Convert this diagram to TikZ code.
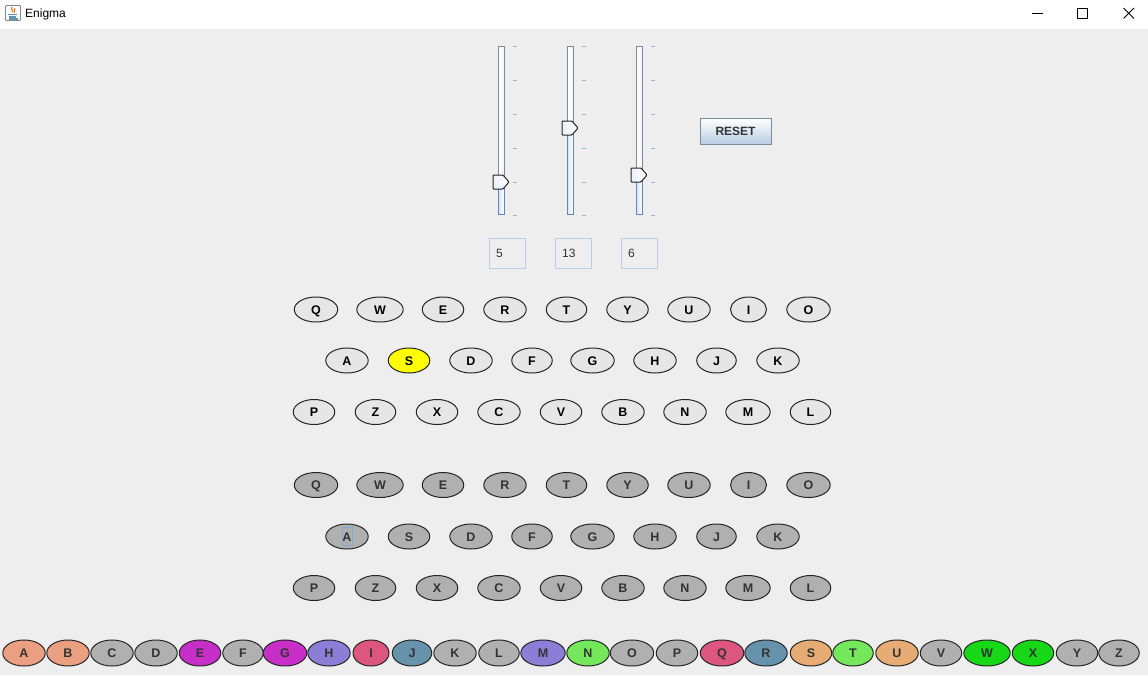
\documentclass[tikz,border=0pt]{standalone}
\usepackage{fontspec}
\setmainfont{Liberation Sans}
\usetikzlibrary{shapes.geometric}
\definecolor{bg}{HTML}{EEEEEE}
\definecolor{keyfill}{HTML}{E6E6E6}
\definecolor{lampgray}{HTML}{B0B0B0}
\definecolor{darktext}{HTML}{333333}
\definecolor{salmon}{HTML}{E99F80}
\definecolor{magentac}{HTML}{C82EC8}
\definecolor{lavender}{HTML}{8C7ED6}
\definecolor{pinkred}{HTML}{DC5680}
\definecolor{steelc}{HTML}{6792AC}
\definecolor{lightgreen}{HTML}{74E85A}
\definecolor{tanc}{HTML}{E6AC74}
\definecolor{greenc}{HTML}{16D816}
\definecolor{trackgray}{HTML}{7A8A99}
\definecolor{trackblue}{HTML}{6382BF}
\definecolor{tickblue}{HTML}{9DB5D4}
\definecolor{fieldblue}{HTML}{B8CFE5}
\definecolor{btnbottom}{HTML}{B9CDE4}
\definecolor{focusblue}{HTML}{7FA7D9}
\definecolor{keyyellow}{HTML}{FFFF00}
\begin{document}
\begin{tikzpicture}[x=1pt,y=-1pt,
  kbkey/.style={ellipse, draw=black!85, line width=1pt, fill=#1,
    inner xsep=10.5pt, inner ysep=0pt, minimum height=25pt, minimum width=36pt,
    text height=9pt, text depth=0pt,
    font=\fontsize{12.5}{14}\selectfont\bfseries, text=black},
  kbkey/.default=keyfill,
  lampkey/.style={kbkey=lampgray, text=darktext},
  plugkey/.style={kbkey=#1, text=darktext, minimum height=26pt},
  field/.style={draw=fieldblue, line width=1pt, fill=bg, minimum width=36pt, minimum height=30pt},
  fieldtext/.style={anchor=west, font=\fontsize{12}{14}\selectfont, text=darktext, inner sep=0pt},
  tick/.style={draw=tickblue, line width=1pt},
  winctl/.style={draw=black, line width=1pt}
]
\useasboundingbox (0,0) rectangle (1148,675);
\fill[bg] (0,0) rectangle (1148,675);
\fill[white] (0,0) rectangle (1148,29);

% title bar
\draw[trackgray, line width=0.8pt, rounded corners=1pt] (5.5,5.5) rectangle (20.5,20.5);
\draw[orange!90!black, line width=1pt] (12,7) .. controls (10,9) and (14,10) .. (12,12);
\draw[orange!90!black, line width=1pt] (15,8) .. controls (13,10) and (16,11) .. (14,13);
\draw[steelc, line width=1.2pt] (8,14.5) -- (17,14.5) (9,17) -- (16,17) (8.5,19) -- (17.5,19);
\node[anchor=west, font=\fontsize{12}{14}\selectfont, inner sep=0pt] (title) at (25,14) {Enigma};
\draw[winctl] (1032,13.5) -- (1043,13.5);
\draw[winctl] (1077.5,8.5) rectangle (1087.5,18.5);
\draw[winctl] (1123.5,8) -- (1134,18.5) (1123.5,18.5) -- (1134,8);

% sliders
\foreach \xc/\ty/\nm in {501/182/sa, 570/128/sb, 639/175/sc}{
  \draw[trackgray, line width=1pt, left color=white, right color=white!80!fieldblue]
    (\xc-3,46) rectangle (\xc+3,\ty);
  \draw[trackblue, line width=1pt, left color=fieldblue!60, right color=white]
    (\xc-3,\ty) rectangle (\xc+3,214);
  \foreach \t in {46,80,114,148,182,215}
    \draw[tick] (\xc+12,\t) -- (\xc+16,\t);
  \draw[black!85, line width=1pt, left color=white!70!fieldblue, right color=white, rounded corners=0.8pt]
    (\xc-8,\ty-7) -- (\xc+2,\ty-7) -- (\xc+8,\ty) -- (\xc+2,\ty+7) -- (\xc-8,\ty+7) -- cycle;
  \coordinate (\nm) at (\xc,\ty);
}

% RESET button
\node[draw=trackgray, line width=1pt, top color=white, bottom color=btnbottom,
  minimum width=71pt, minimum height=26pt, inner sep=0pt,
  font=\fontsize{12}{14}\selectfont\bfseries, text=darktext] (reset) at (735.5,131) {RESET};

% value fields
\node[field] (fa) at (507,253) {};
\node[field] (fb) at (573,253) {};
\node[field] (fc) at (639,253) {};
\node[fieldtext] (ta) at (496,253.5) {5};
\node[fieldtext] (tb) at (562,253.5) {13};
\node[fieldtext] (tc) at (628,253.5) {6};

% keyboard
\foreach \l/\x in {Q/316, W/380, E/443, R/505, T/566.5, Y/627.5, U/689, I/748.5, O/808.5}
  \node[kbkey] (k\l) at (\x,309.5) {\l};
\foreach \l/\x/\c in {A/347/keyfill, S/409/keyyellow, D/471/keyfill, F/532/keyfill, G/592.5/keyfill, H/655/keyfill, J/716.5/keyfill, K/778/keyfill}
  \node[kbkey=\c] (k\l) at (\x,360.5) {\l};
\foreach \l/\x in {P/314, Z/375.5, X/437, C/499, V/561, B/623, N/685, M/748, L/810.5}
  \node[kbkey] (k\l) at (\x,412) {\l};

% lamps
\foreach \l/\x in {Q/316, W/380, E/443, R/505, T/566.5, Y/627.5, U/689, I/748.5, O/808.5}
  \node[lampkey] (l\l) at (\x,485) {\l};
\foreach \l/\x in {A/347, S/409, D/471, F/532, G/592.5, H/655, J/716.5, K/778}
  \node[lampkey] (l\l) at (\x,536.5) {\l};
\foreach \l/\x in {P/314, Z/375.5, X/437, C/499, V/561, B/623, N/685, M/748, L/810.5}
  \node[lampkey] (l\l) at (\x,588) {\l};
\draw[focusblue, line width=0.6pt] (lA.center) ++(-5,-9) rectangle ++(10,18);

% plugboard
\foreach \l/\x/\c in {A/24/salmon, B/68/salmon, C/112/lampgray, D/156/lampgray, E/200/magentac,
  F/243/lampgray, G/285/magentac, H/329/lavender, I/371/pinkred, J/412/steelc, K/455/lampgray,
  L/499/lampgray, M/543/lavender, N/588/lightgreen, O/632/lampgray, P/677/lampgray, Q/722/pinkred,
  R/766/steelc, S/811/tanc, T/853/lightgreen, U/897/tanc, V/941/lampgray, W/987/greenc,
  X/1033/greenc, Y/1077/lampgray, Z/1119/lampgray}
  \node[plugkey=\c] (p\l) at (\x,653) {\l};
\end{tikzpicture}
\end{document}
